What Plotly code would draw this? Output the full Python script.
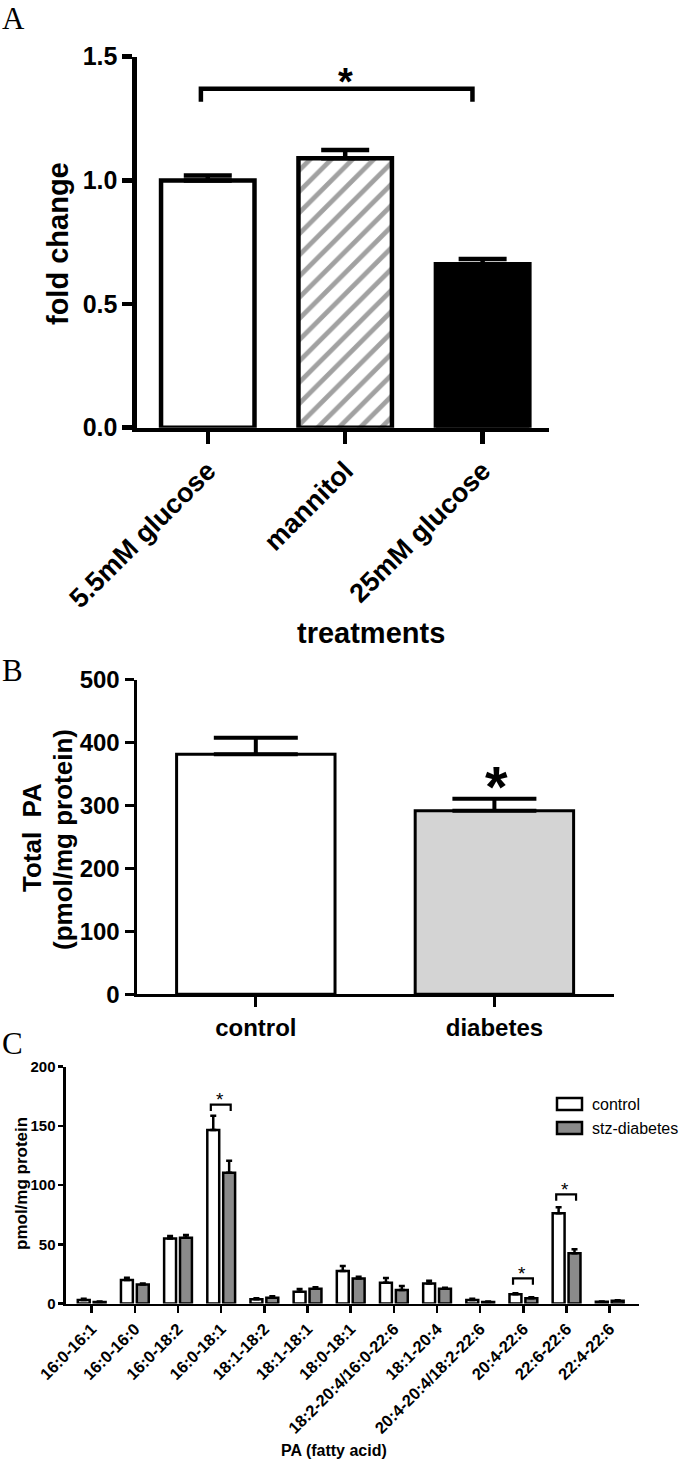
import plotly.graph_objects as go

# ---------------- data ----------------
# Panel A
treatments = ["5.5mM glucose", "mannitol", "25mM glucose"]
fold_change = [1.0, 1.089, 0.661]
fold_change_err = [0.02, 0.034, 0.021]
a_yticks = [0.0, 0.5, 1.0, 1.5]

# Panel B
groups_b = ["control", "diabetes"]
total_pa = [382, 292]
total_pa_err = [26, 19]
b_yticks = [0, 100, 200, 300, 400, 500]

# Panel C
fatty_acids = ["16:0-16:1", "16:0-16:0", "16:0-18:2", "16:0-18:1", "18:1-18:2",
               "18:1-18:1", "18:0-18:1", "18:2-20:4/16:0-22:6", "18:1-20:4",
               "20:4-20:4/18:2-22:6", "20:4-22:6", "22:6-22:6", "22:4-22:6"]
pa_control = [3.0, 19.8, 55.0, 146.5, 3.5, 10.0, 27.5, 17.6, 17.0, 3.0, 7.8, 76.2, 1.5]
pa_control_err = [1.0, 2.0, 2.0, 12.0, 1.0, 2.2, 4.2, 4.0, 2.2, 1.0, 0.9, 5.2, 0.3]
pa_diabetes = [1.2, 16.0, 55.5, 110.5, 4.8, 12.5, 21.2, 11.4, 12.5, 1.2, 4.5, 42.4, 2.3]
pa_diabetes_err = [0.4, 0.8, 2.3, 10.0, 1.3, 1.2, 1.4, 3.4, 0.8, 0.4, 0.8, 3.5, 0.5]
c_yticks = [0, 50, 100, 150, 200]
c_series = ["control", "stz-diabetes"]
# significance brackets in C: (category index, bracket height)
c_sig = [(3, 168.0), (10, 21.3), (11, 92.2)]

# ---------------- style ----------------
W, H = 686, 1460
SANS = "Liberation Sans, Arial, Helvetica, sans-serif"
SERIF = "Liberation Serif, Times New Roman, serif"
C_GRAY = "#8a8a8a"
B_GRAY = "#d4d4d4"


def px(x):
    return x / W


def py(y):
    return 1 - y / H


fig = go.Figure()

# Panel A bars
fig.add_trace(go.Bar(
    x=treatments, y=fold_change, width=0.68,
    marker=dict(color=["white", "white", "black"],
                line=dict(color="black", width=4.5),
                pattern=dict(shape=["", "/", ""], fgcolor="black", bgcolor="white",
                             size=15, solidity=0.32)),
    error_y=dict(type="data", symmetric=False, array=fold_change_err,
                 arrayminus=[0] * len(fold_change), color="black", thickness=4.5, width=24),
    xaxis="x", yaxis="y", showlegend=False))

# Panel B bars
fig.add_trace(go.Bar(
    x=groups_b, y=total_pa, width=0.664,
    marker=dict(color=["white", B_GRAY], line=dict(color="black", width=3)),
    error_y=dict(type="data", symmetric=False, array=total_pa_err,
                 arrayminus=[0] * len(total_pa), color="black", thickness=4, width=42),
    xaxis="x2", yaxis="y2", showlegend=False))

# Panel C bars
bw = 0.276
fig.add_trace(go.Bar(
    x=fatty_acids, y=pa_control, width=bw, offset=-0.322, name=c_series[0],
    marker=dict(color="white", line=dict(color="black", width=2.5)),
    error_y=dict(type="data", symmetric=False, array=pa_control_err,
                 arrayminus=[0] * len(pa_control), color="black", thickness=2.5, width=3),
    xaxis="x3", yaxis="y3", showlegend=False))
fig.add_trace(go.Bar(
    x=fatty_acids, y=pa_diabetes, width=bw, offset=0.046, name=c_series[1],
    marker=dict(color=C_GRAY, line=dict(color="black", width=2.5)),
    error_y=dict(type="data", symmetric=False, array=pa_diabetes_err,
                 arrayminus=[0] * len(pa_diabetes), color="black", thickness=2.5, width=3),
    xaxis="x3", yaxis="y3", showlegend=False))


def axis_common(lw, tl, fs, **kw):
    d = dict(showline=True, linecolor="black", linewidth=lw, ticks="outside",
             ticklen=tl, tickwidth=lw, tickcolor="black", showgrid=False,
             zeroline=False, automargin=False, fixedrange=True,
             tickfont=dict(family=SANS, size=fs, color="black", weight="bold"))
    d.update(kw)
    return d


fig.update_layout(
    width=W, height=H, autosize=False,
    margin=dict(l=0, r=0, t=0, b=0),
    paper_bgcolor="white", plot_bgcolor="white",
    barmode="overlay", hovermode=False,
    xaxis=axis_common(4.5, 12, 27, domain=[0.1997, 0.8003], anchor="y",
                      range=[-0.515, 2.483], tickangle=-45),
    yaxis=axis_common(4.5, 10, 25, domain=[0.70705, 0.96116], anchor="x",
                      range=[0, 1.5], tickvals=a_yticks,
                      ticktext=["%.1f" % v for v in a_yticks]),
    xaxis2=axis_common(3, 10, 24, domain=[0.1990, 0.8946], anchor="y2",
                       range=[-0.5, 1.5], tickangle=0),
    yaxis2=axis_common(3, 9, 24, domain=[0.31897, 0.53425], anchor="x2",
                       range=[0, 500], tickvals=b_yticks),
    xaxis3=axis_common(2.5, 7, 16.5, domain=[0.0962, 0.931], anchor="y3",
                       range=[-0.595, 12.67], tickangle=-45),
    yaxis3=axis_common(2.5, 5, 15, domain=[0.10719, 0.26938], anchor="x3",
                       range=[0, 200], tickvals=c_yticks),
)

shapes = []
annotations = []

# Panel letters
for letter, yc in [("A", 18), ("B", 670), ("C", 1043)]:
    annotations.append(dict(text=letter, x=0, y=py(yc), xref="paper", yref="paper",
                            xanchor="left", yanchor="middle", showarrow=False,
                            font=dict(family=SERIF, size=31, color="black")))

# Axis titles
titles = [
    dict(text="fold change", x=px(58), y=py(243), textangle=-90,
         font=dict(family=SANS, size=29, color="black", weight="bold")),
    dict(text="treatments", x=px(370.7), y=py(633),
         font=dict(family=SANS, size=29, color="black", weight="bold")),
    dict(text="Total  PA", x=px(32), y=py(838), textangle=-90,
         font=dict(family=SANS, size=26, color="black", weight="bold")),
    dict(text="(pmol/mg protein)", x=px(63), y=py(840), textangle=-90,
         font=dict(family=SANS, size=26, color="black", weight="bold")),
    dict(text="pmol/mg protein", x=px(21), y=py(1184), textangle=-90,
         font=dict(family=SANS, size=17, color="black", weight="bold")),
    dict(text="PA (fatty acid)", x=px(334), y=py(1450),
         font=dict(family=SANS, size=16, color="black", weight="bold")),
]
for a in titles:
    a.update(xref="paper", yref="paper", xanchor="center", yanchor="middle", showarrow=False)
annotations += titles

# Panel A significance bracket
a_top = 1.37
a_end = 1.318
shapes.append(dict(type="path", xref="x", yref="y",
                   path=f"M -0.05,{a_end} L -0.05,{a_top} L 1.926,{a_top} L 1.926,{a_end}",
                   line=dict(color="black", width=4.5)))
annotations.append(dict(text="*", x=1, y=1.44, xref="x", yref="y", showarrow=False,
                        yshift=-10, font=dict(family=SANS, size=38, color="black", weight="bold")))

# Panel B star
annotations.append(dict(text="*", x=1, y=total_pa[1] + total_pa_err[1] + 32, xref="x2", yref="y2",
                        showarrow=False, xshift=2, yshift=-8,
                        font=dict(family=SANS, size=58, color="black", weight="bold")))

# Panel C brackets
for idx, h in c_sig:
    shapes.append(dict(type="path", xref="x3", yref="y3",
                       path=f"M {idx-0.24},{h-5.5} L {idx-0.24},{h} L {idx+0.22},{h} L {idx+0.22},{h-5.5}",
                       line=dict(color="black", width=2.2)))
    annotations.append(dict(text="*", x=idx - 0.03, y=h + 8.5, xref="x3", yref="y3",
                            showarrow=False, yshift=-5,
                            font=dict(family=SANS, size=19, color="black")))

# Panel C legend (drawn manually to match the original key)
leg_items = [(c_series[0], "white", 1104), (c_series[1], C_GRAY, 1128)]
for name, col, yc in leg_items:
    shapes.append(dict(type="rect", xref="paper", yref="paper",
                       x0=px(557), x1=px(582), y0=py(yc + 6), y1=py(yc - 6),
                       fillcolor=col, line=dict(color="black", width=2.5)))
    annotations.append(dict(text=name, x=px(590), y=py(yc), xref="paper", yref="paper",
                            xanchor="left", yanchor="middle", showarrow=False,
                            font=dict(family=SANS, size=16, color="black")))

fig.update_layout(shapes=shapes, annotations=annotations)
fig.write_html("out.html",
               config={"displayModeBar": False, "staticPlot": True},
               post_script="document.body.style.margin='0';document.body.style.padding='0';"
                           "document.documentElement.style.overflow='hidden';")
